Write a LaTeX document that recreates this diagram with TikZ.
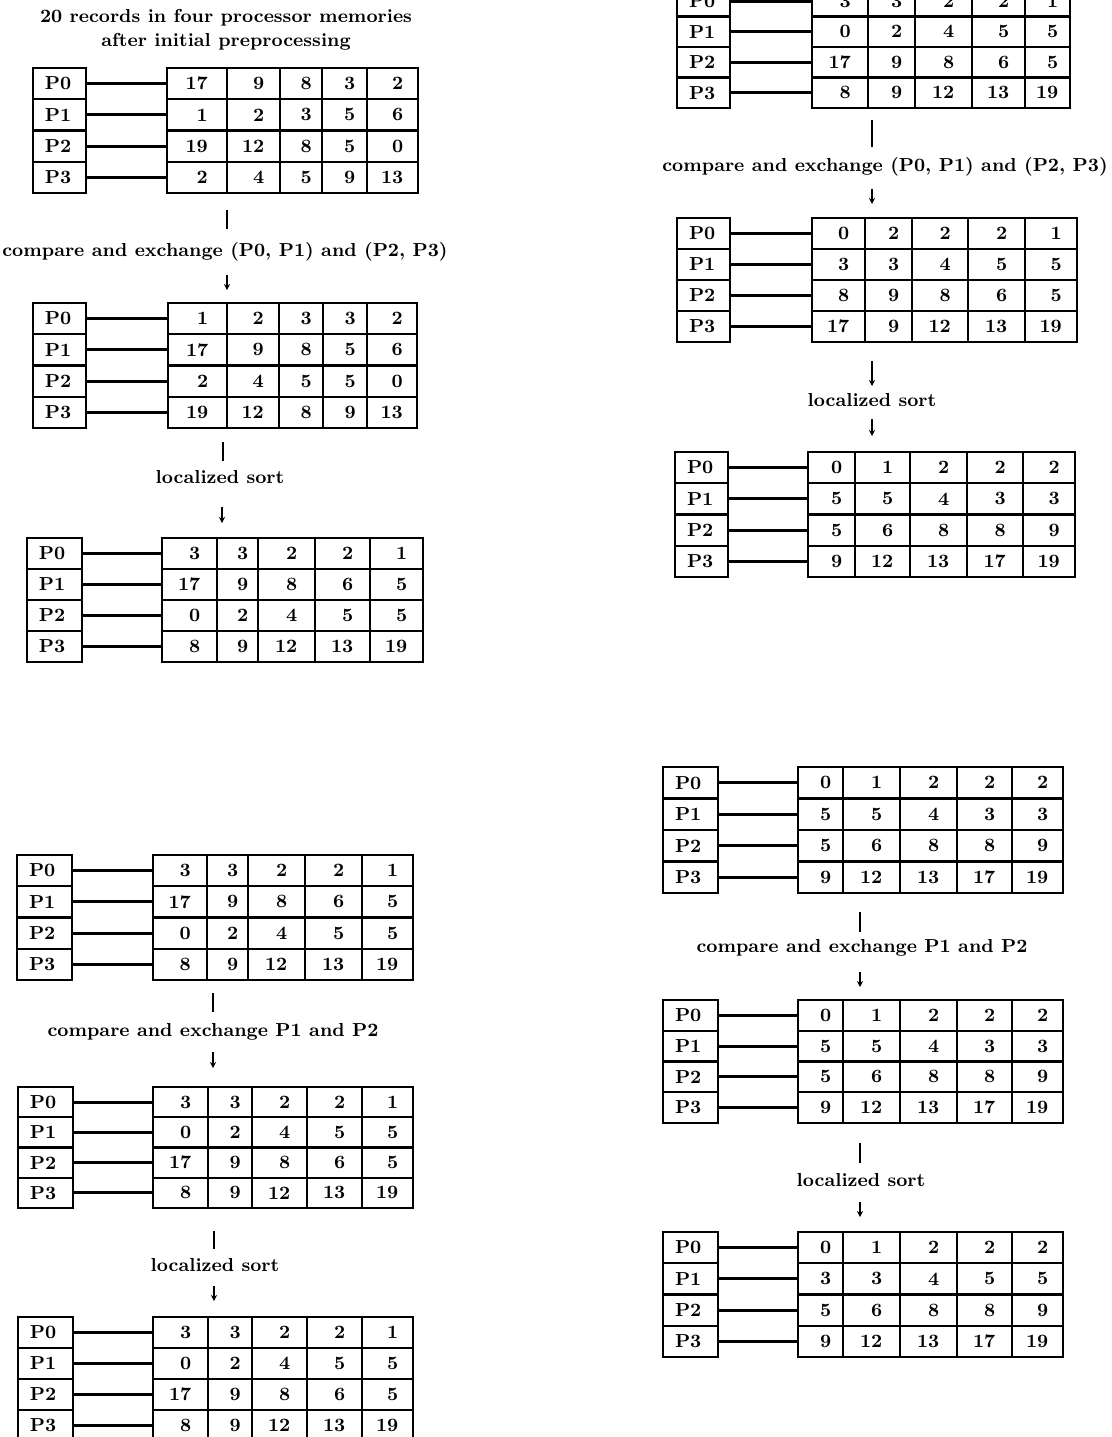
\documentclass[tikz,border=0pt]{standalone}
\usetikzlibrary{arrows.meta}
\newlength\twodig
\setlength\twodig{10.8pt}
\newcommand\setcols[8]{\def\Pl{#1}\def\Pr{#2}\def\Gl{#3}\def\Ca{#4}\def\Cb{#5}\def\Cc{#6}\def\Cd{#7}\def\Gr{#8}}
\newcommand\cellat[4]{\node[cellnode, minimum width={(#3-#2)*0.5pt}, minimum height={\rh*0.5pt}] (#1) at ({(#2+#3)/2},\yc) {\makebox[\twodig][r]{#4}};}
\newcommand\proctable[4]{%
  \pgfmathsetmacro\rh{(#3-#2)/4}%
  \pgfmathsetlengthmacro\pw{(\Pr-\Pl)*0.5pt-12pt}%
  \foreach \a/\b/\c/\d/\e [count=\r from 0] in {#4}{%
    \pgfmathsetmacro\yc{#2+(\r+0.5)*\rh}%
    \node[cellnode, minimum width={(\Pr-\Pl)*0.5pt}, minimum height={\rh*0.5pt}] (#1p\r) at ({(\Pl+\Pr)/2},\yc) {\makebox[\pw][l]{P\r}};
    \cellat{#1c\r-1}{\Gl}{\Ca}{\a}
    \cellat{#1c\r-2}{\Ca}{\Cb}{\b}
    \cellat{#1c\r-3}{\Cb}{\Cc}{\c}
    \cellat{#1c\r-4}{\Cc}{\Cd}{\d}
    \cellat{#1c\r-5}{\Cd}{\Gr}{\e}
    \draw[conn] (#1p\r.east) -- (#1c\r-1.west);
  }
  \foreach \k in {1,2,3}{%
    \draw[rowline] (\Pl,{#2+\k*\rh}) -- (\Pr,{#2+\k*\rh});
    \draw[rowline] (\Gl,{#2+\k*\rh}) -- (\Gr,{#2+\k*\rh});
  }
  \foreach \cx in {\Ca,\Cb,\Cc,\Cd} \draw[colline] (\cx,#2) -- (\cx,#3);
  \draw[outer] (\Pl,#2) rectangle (\Pr,#3);
  \draw[outer] (\Gl,#2) rectangle (\Gr,#3);
}
\begin{document}
\begin{tikzpicture}[x=0.5pt,y=-0.5pt,
  font=\fontsize{9.4}{12}\selectfont\bfseries,
  outer/.style={line width=1.3pt},
  rowline/.style={line width=1.1pt},
  colline/.style={line width=0.6pt},
  conn/.style={line width=1.4pt},
  cellnode/.style={inner sep=0pt, draw=none},
  lbl/.style={inner sep=0pt, align=center},
  bar/.style={line width=1pt},
  downarrow/.style={line width=0.8pt, -{Stealth[length=3pt,width=3pt]}},
]
\useasboundingbox (0,0) rectangle (1112,1437);
\fill[white] (0,0) rectangle (1112,1437);

% ---------------- left column ----------------
\node[lbl] (title) at (226,30) {20 records in four processor memories\\after initial preprocessing};

\setcols{33}{86}{167}{227}{280}{322}{367}{418}
\proctable{La}{68}{193}{17/9/8/3/2, 1/2/3/5/6, 19/12/8/5/0, 2/4/5/9/13}

\draw[bar] (227,210) -- (227,229);
\node[lbl] (lab1) at (225,252) {compare and exchange (P0, P1) and (P2, P3)};
\draw[downarrow] (227,275) -- (227,290);

\setcols{33}{86}{168}{227}{279}{323}{367}{417}
\proctable{Lb}{303}{428}{1/2/3/3/2, 17/9/8/5/6, 2/4/5/5/0, 19/12/8/9/13}

\draw[bar] (223,442) -- (223,461);
\node[lbl] (lab2) at (220,477) {localized sort};
\draw[downarrow] (222,507) -- (222,523);

\setcols{27}{82}{162}{217}{258}{315}{370}{423}
\proctable{Lc}{538}{662}{3/3/2/2/1, 17/9/8/6/5, 0/2/4/5/5, 8/9/12/13/19}

\setcols{17}{72}{153}{207}{248}{305}{362}{413}
\proctable{Ld}{855}{980}{3/3/2/2/1, 17/9/8/6/5, 0/2/4/5/5, 8/9/12/13/19}

\draw[bar] (213,993) -- (213,1012);
\node[lbl] (lab3) at (213,1032) {compare and exchange P1 and P2};
\draw[downarrow] (213,1052) -- (213,1068);

\setcols{18}{73}{153}{208}{252}{307}{362}{413}
\proctable{Le}{1087}{1208}{3/3/2/2/1, 0/2/4/5/5, 17/9/8/6/5, 8/9/12/13/19}

\draw[bar] (214,1231) -- (214,1249);
\node[lbl] (lab4) at (215,1265) {localized sort};
\draw[downarrow] (214,1286) -- (214,1301);

\proctable{Lf}{1317}{1441}{3/3/2/2/1, 0/2/4/5/5, 17/9/8/6/5, 8/9/12/13/19}

% ---------------- right column ----------------
\setcols{677}{730}{812}{868}{915}{972}{1025}{1070}
\proctable{Ra}{-14}{108}{3/3/2/2/1, 0/2/4/5/5, 17/9/8/6/5, 8/9/12/13/19}

\draw[bar] (872,120) -- (872,147);
\node[lbl] (lab5) at (885,167) {compare and exchange (P0, P1) and (P2, P3)};
\draw[downarrow] (872,189) -- (872,204);

\setcols{677}{730}{812}{865}{912}{968}{1025}{1077}
\proctable{Rb}{218}{342}{0/2/2/2/1, 3/3/4/5/5, 8/9/8/6/5, 17/9/12/13/19}

\draw[downarrow] (872,361) -- (872,386);
\node[lbl] (lab6) at (872,400) {localized sort};
\draw[downarrow] (872,419) -- (872,436);

\setcols{675}{728}{808}{855}{910}{967}{1023}{1075}
\proctable{Rc}{452}{577}{0/1/2/2/2, 5/5/4/3/3, 5/6/8/8/9, 9/12/13/17/19}

\setcols{663}{718}{798}{843}{900}{957}{1012}{1063}
\proctable{Rd}{767}{893}{0/1/2/2/2, 5/5/4/3/3, 5/6/8/8/9, 9/12/13/17/19}

\draw[bar] (860,912) -- (860,932);
\node[lbl] (lab7) at (862,948) {compare and exchange P1 and P2};
\draw[downarrow] (860,972) -- (860,987);

\proctable{Re}{1000}{1123}{0/1/2/2/2, 5/5/4/3/3, 5/6/8/8/9, 9/12/13/17/19}

\draw[bar] (860,1143) -- (860,1163);
\node[lbl] (lab8) at (861,1180) {localized sort};
\draw[downarrow] (860,1202) -- (860,1217);

\proctable{Rf}{1232}{1357}{0/1/2/2/2, 3/3/4/5/5, 5/6/8/8/9, 9/12/13/17/19}
\end{tikzpicture}
\end{document}
